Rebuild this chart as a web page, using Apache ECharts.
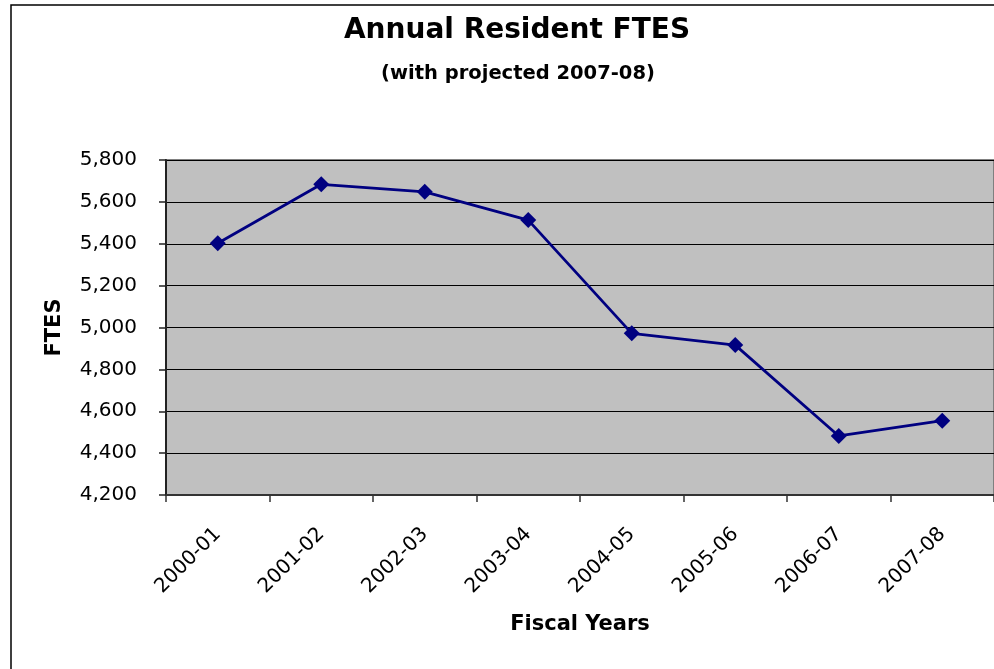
<!DOCTYPE html>
<html>
<head>
<meta charset="utf-8">
<script src="https://cdn.jsdelivr.net/npm/echarts@6/dist/echarts.min.js"></script>
<style>
html,body{margin:0;padding:0;background:#fff;overflow:hidden;}
#chart{width:994px;height:669px;}
</style>
</head>
<body>
<div id="chart"></div>
<script>
const categories = ['2000-01','2001-02','2002-03','2003-04','2004-05','2005-06','2006-07','2007-08'];
const ftesValues = [5402, 5684, 5648, 5513, 4972, 4916, 4482, 4555];
const yTicks = {min: 4200, max: 5800, interval: 200};
const titleText = 'Annual Resident FTES';
const subtitleText = '(with projected 2007-08)';
const xAxisName = 'Fiscal Years';
const yAxisName = 'FTES';

const chart = echarts.init(document.getElementById('chart'), null, {renderer: 'canvas'});
const font = 'DejaVu Sans';
chart.setOption({
  animation: false,
  backgroundColor: '#fff',
  title: [
    {text: titleText, left: 512, top: 12, textAlign: 'center',
     textStyle: {fontFamily: font, fontWeight: 'bold', fontSize: 28, color: '#000'}},
    {text: subtitleText, left: 513, top: 59, textAlign: 'center',
     textStyle: {fontFamily: font, fontWeight: 'bold', fontSize: 19.5, color: '#000'}}
  ],
  graphic: [
    {type: 'rect', shape: {x: 11, y: 5, width: 1000, height: 700},
     style: {fill: 'none', stroke: '#000', lineWidth: 1.5}, silent: true, z: 100}
  ],
  grid: {left: 166, top: 160, width: 836, height: 335, show: true,
         backgroundColor: '#C0C0C0', borderColor: '#808080', borderWidth: 2},
  xAxis: {
    type: 'category', data: categories, boundaryGap: true,
    name: xAxisName, nameLocation: 'middle', nameGap: 119,
    nameTextStyle: {fontFamily: font, fontWeight: 'bold', fontSize: 21, color: '#000'},
    axisLine: {lineStyle: {color: '#333', width: 2}},
    axisTick: {show: true, length: 7, lineStyle: {color: '#333', width: 1.5}},
    axisLabel: {rotate: 45, margin: 36, fontFamily: font, fontSize: 20, color: '#000', interval: 0},
    splitLine: {show: false}
  },
  yAxis: {
    type: 'value', min: yTicks.min, max: yTicks.max, interval: yTicks.interval,
    name: yAxisName, nameLocation: 'middle', nameGap: 101,
    nameTextStyle: {fontFamily: font, fontWeight: 'bold', fontSize: 21, color: '#000'},
    axisLine: {show: true, lineStyle: {color: '#222', width: 2}},
    axisTick: {show: true, length: 7, lineStyle: {color: '#222', width: 1.5}},
    axisLabel: {margin: 29, fontFamily: font, fontSize: 20, color: '#000',
      formatter: v => v.toLocaleString('en-US')},
    splitLine: {show: true, lineStyle: {color: '#000', width: 1.2}}
  },
  series: [{
    type: 'line', data: ftesValues,
    lineStyle: {color: '#000080', width: 2.8},
    itemStyle: {color: '#000080'},
    symbol: 'diamond', symbolSize: 16, showSymbol: true
  }]
});
</script>
</body>
</html>
